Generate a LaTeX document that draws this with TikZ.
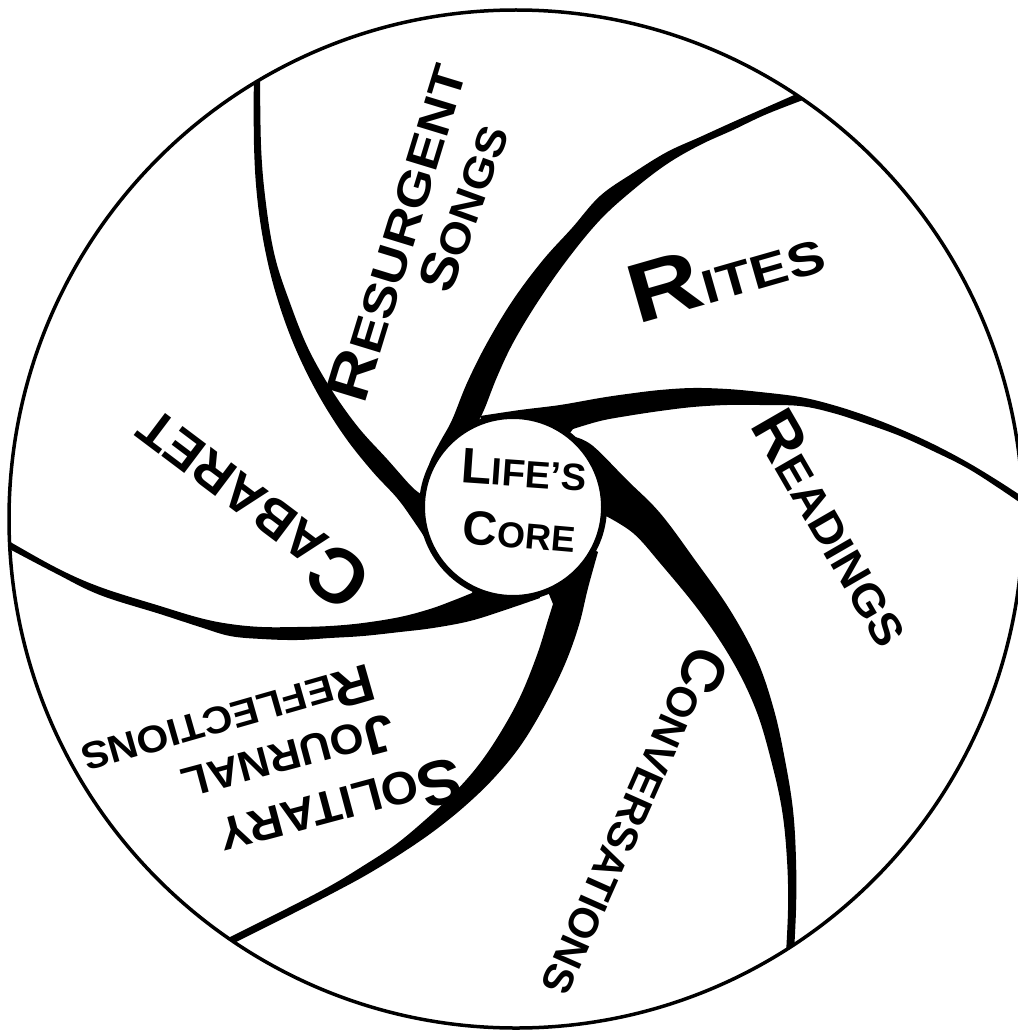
\documentclass[tikz,border=0pt]{standalone}
\usepackage{fontspec}
\setmainfont{Liberation Sans}
\usepackage{graphicx}
\newcommand\hlbl[5]{\scalebox{#1}[1]{\bfseries{\fontsize{#2}{#2}\selectfont #3}{\fontsize{#4}{#4}\selectfont #5}}}
\begin{document}
\begin{tikzpicture}[x=1pt,y=-1pt,
  armfill/.style={fill=black},
  rim/.style={draw=black,line width=3.5pt},
  corecircle/.style={circle,draw=black,fill=white,line width=6pt,minimum size=182pt,inner sep=0pt},
  lab/.style={anchor=base,inner sep=0pt,outer sep=0pt}]
\useasboundingbox (0,0) rectangle (1017,1030);
\coordinate (c) at (513,507);
\begin{scope}
\clip (516,519) ellipse [x radius=507, y radius=509];
% arm 1 : Cabaret | Resurgent Songs
\fill[armfill] plot[smooth,tension=0.6] coordinates {(427,541) (413,520) (397,498) (372,471) (345,437) (319,396) (297,352) (280,307) (267,259) (258,205) (254,145) (254,55)}
  -- plot[smooth,tension=0.6] coordinates {(260,55) (261,145) (266,204) (275,257) (290,303) (308,348) (331,389) (358,427) (387,459) (411,486) (421,494)} -- (c) -- cycle;
% arm 2 : Resurgent Songs | Rites
\fill[armfill] plot[smooth,tension=0.6] coordinates {(423,486) (430,462) (440,442) (452,420) (467,383) (487,343) (513,300) (543,260) (572,228) (600,196) (633,173) (667,152) (700,137) (733,122) (767,107) (810,88)}
  -- plot[smooth,tension=0.6] coordinates {(811,97) (767,114) (733,130) (700,145) (667,164) (633,190) (600,220) (567,260) (537,303) (513,343) (497,377) (484,410) (476,425)} -- (c) -- cycle;
% arm 3 : Rites | Readings
\fill[armfill] plot[smooth,tension=0.6] coordinates {(480,416) (520,410) (560,405) (600,398) (627,394) (660,390) (693,388) (727,389) (760,392) (800,397) (833,405) (867,416) (900,429) (933,444) (967,462) (1000,482) (1035,505)}
  -- plot[smooth,tension=0.6] coordinates {(1035,513) (1000,489) (967,468) (933,451) (900,436) (867,424) (833,413) (800,406) (760,405) (727,405) (693,407) (660,411) (627,416) (600,421) (573,429)} -- (c) -- cycle;
% arm 4 : Readings | Conversations
\fill[armfill] plot[smooth,tension=0.6] coordinates {(575,437) (593,446) (627,480) (660,513) (695,560) (730,610) (757,660) (774,710) (785,760) (793,810) (796,860) (796,910) (793,970)}
  -- plot[smooth,tension=0.6] coordinates {(785,970) (788,910) (787,860) (782,810) (771,760) (756,710) (733,662) (700,612) (660,563) (633,533) (604,515)} -- (c) -- cycle;
% arm 5 : Conversations | Solitary Journal Reflections
\fill[armfill] plot[smooth,tension=0.6] coordinates {(598,552) (588,588) (579,625) (565,664) (545,705) (521,745) (494,778) (465,806) (434,831) (402,853) (368,874) (333,893) (290,915) (220,950)}
  -- plot[smooth,tension=0.6] coordinates {(220,942) (286,909) (330,886) (363,866) (395,845) (424,821) (452,795) (477,767) (499,735) (520,697) (537,655) (548,620) (553,604)} -- (c) -- cycle;
% arm 6 : Solitary Journal Reflections | Cabaret
\fill[armfill] plot[smooth,tension=0.6] coordinates {(540,598) (505,610) (470,621) (433,628) (400,632) (363,636) (330,638) (297,640) (262,639) (230,636) (200,627) (160,614) (100,595) (55,573) (0,544)}
  -- plot[smooth,tension=0.6] coordinates {(0,536) (55,567) (100,587) (160,606) (200,618) (230,624) (262,627) (297,627) (330,626) (363,623) (400,617) (430,609) (452,601) (472,593)} -- (c) -- cycle;
\end{scope}
\draw[rim] (516,519) ellipse [x radius=507, y radius=509];
\node[corecircle] (core) at (c) {};
% labels
\node[lab,rotate=73] (resurgent) at (416,238) {\hlbl{1.17}{60}{R}{46}{ESURGENT}};
\node[lab,rotate=70] (songs) at (480,214) {\hlbl{1.1}{52}{S}{42}{ONGS}};
\node[lab,rotate=16] (rites) at (733,297) {\hlbl{1.2}{84}{R}{47}{ITES}};
\node[lab,rotate=-60] (readings) at (815,538) {\hlbl{1.04}{63}{R}{45}{EADINGS}};
\node[lab,rotate=-114] (conversations) at (617,814) {\hlbl{1.0}{60}{C}{42}{ONVERSATIONS}};
\node[lab,rotate=195] (solitary) at (336,789) {\hlbl{1.04}{63}{S}{46}{OLITARY}};
\node[lab,rotate=195] (journal) at (284,742) {\hlbl{1.04}{53}{J}{42}{OURNAL}};
\node[lab,rotate=196] (reflections) at (224,705) {\hlbl{1.08}{53}{R}{38}{EFLECTIONS}};
\node[lab,rotate=143] (cabaret) at (266,489) {\hlbl{1.0}{77}{C}{53}{ABARET}};
\node[lab,rotate=-4] (lifes) at (523,487) {\hlbl{1.0}{50}{L}{38}{IFE’S}};
\node[lab,rotate=-5] (corelabel) at (518,548) {\hlbl{1.0}{48}{C}{36}{ORE}};
\end{tikzpicture}
\end{document}
